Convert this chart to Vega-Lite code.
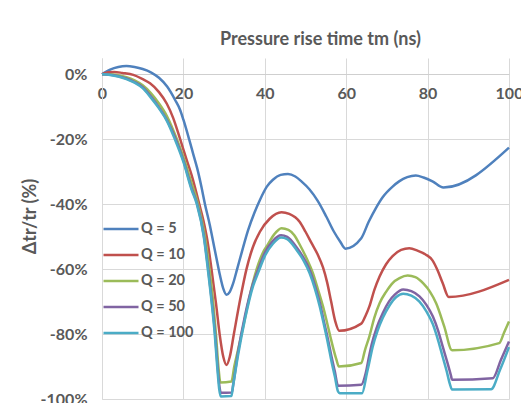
{
"$schema": "https://vega.github.io/schema/vega-lite/v6.json",
"width": 407, "height": 341,
"autosize": {"type": "none"},
"padding": {"left": 102, "top": 58, "right": 12, "bottom": 4},
"background": "white",
"title": {"text": "Pressure rise time tm (ns)", "font": "Lato", "fontSize": 18, "fontWeight": "bold", "color": "#595959", "anchor": "middle", "dx": 15, "offset": -5, "baseline": "alphabetic"},
"config": {"view": {"stroke": null}, "font": "Lato"},
"data": {"values": [
{"Q":"Q = 5","t":0,"v":0},{"Q":"Q = 5","t":2,"v":1.4},{"Q":"Q = 5","t":4,"v":2.2},{"Q":"Q = 5","t":6,"v":2.5},{"Q":"Q = 5","t":8,"v":2.2},{"Q":"Q = 5","t":10,"v":1.6},{"Q":"Q = 5","t":12,"v":0.6},{"Q":"Q = 5","t":14,"v":-1.1},{"Q":"Q = 5","t":16,"v":-3.8},{"Q":"Q = 5","t":18,"v":-8},{"Q":"Q = 5","t":19.2,"v":-11},{"Q":"Q = 5","t":20,"v":-14},{"Q":"Q = 5","t":21.4,"v":-20},{"Q":"Q = 5","t":22.4,"v":-24.5},{"Q":"Q = 5","t":23.4,"v":-29},{"Q":"Q = 5","t":24.4,"v":-34.5},{"Q":"Q = 5","t":25.3,"v":-40},{"Q":"Q = 5","t":26.5,"v":-46.5},{"Q":"Q = 5","t":27.3,"v":-51.5},{"Q":"Q = 5","t":28.1,"v":-56.5},{"Q":"Q = 5","t":29,"v":-62},{"Q":"Q = 5","t":29.8,"v":-66},{"Q":"Q = 5","t":30.6,"v":-67.9},{"Q":"Q = 5","t":31.4,"v":-67},{"Q":"Q = 5","t":32.2,"v":-64.5},{"Q":"Q = 5","t":33.2,"v":-60},{"Q":"Q = 5","t":34.3,"v":-55},{"Q":"Q = 5","t":35.9,"v":-48},{"Q":"Q = 5","t":37.5,"v":-42.5},{"Q":"Q = 5","t":38.8,"v":-38.7},{"Q":"Q = 5","t":40.5,"v":-34.6},{"Q":"Q = 5","t":42,"v":-32.5},{"Q":"Q = 5","t":43.9,"v":-31},{"Q":"Q = 5","t":45.7,"v":-30.7},{"Q":"Q = 5","t":47.5,"v":-31.5},{"Q":"Q = 5","t":49,"v":-33},{"Q":"Q = 5","t":51,"v":-35.5},{"Q":"Q = 5","t":53,"v":-39},{"Q":"Q = 5","t":55.1,"v":-43.8},{"Q":"Q = 5","t":57,"v":-48.5},{"Q":"Q = 5","t":58.5,"v":-51.5},{"Q":"Q = 5","t":59.8,"v":-53.7},{"Q":"Q = 5","t":63.7,"v":-50.5},{"Q":"Q = 5","t":65.5,"v":-45.5},{"Q":"Q = 5","t":67.3,"v":-41.2},{"Q":"Q = 5","t":69,"v":-37.8},{"Q":"Q = 5","t":71.4,"v":-34.6},{"Q":"Q = 5","t":73,"v":-33},{"Q":"Q = 5","t":75,"v":-31.7},{"Q":"Q = 5","t":77.1,"v":-31.2},{"Q":"Q = 5","t":79,"v":-31.8},{"Q":"Q = 5","t":81.2,"v":-33},{"Q":"Q = 5","t":83.9,"v":-34.9},{"Q":"Q = 5","t":100,"v":-22.6},
{"Q":"Q = 10","t":0,"v":0},{"Q":"Q = 10","t":1.5,"v":0.6},{"Q":"Q = 10","t":3,"v":0.7},{"Q":"Q = 10","t":5,"v":0.4},{"Q":"Q = 10","t":7.7,"v":-0.2},{"Q":"Q = 10","t":10,"v":-1.5},{"Q":"Q = 10","t":11.8,"v":-2.8},{"Q":"Q = 10","t":14,"v":-5.5},{"Q":"Q = 10","t":15.9,"v":-9},{"Q":"Q = 10","t":17.5,"v":-13.5},{"Q":"Q = 10","t":19.2,"v":-20},{"Q":"Q = 10","t":20.8,"v":-26.4},{"Q":"Q = 10","t":22,"v":-31},{"Q":"Q = 10","t":23.9,"v":-40},{"Q":"Q = 10","t":24.9,"v":-45},{"Q":"Q = 10","t":26,"v":-52},{"Q":"Q = 10","t":26.9,"v":-60},{"Q":"Q = 10","t":28,"v":-70.5},{"Q":"Q = 10","t":28.9,"v":-80},{"Q":"Q = 10","t":29.8,"v":-87},{"Q":"Q = 10","t":30.6,"v":-89.5},{"Q":"Q = 10","t":31.4,"v":-87},{"Q":"Q = 10","t":32.4,"v":-80},{"Q":"Q = 10","t":34,"v":-69},{"Q":"Q = 10","t":35.5,"v":-60},{"Q":"Q = 10","t":37,"v":-53.5},{"Q":"Q = 10","t":38.8,"v":-48.5},{"Q":"Q = 10","t":41.2,"v":-44.5},{"Q":"Q = 10","t":44.1,"v":-42.5},{"Q":"Q = 10","t":46,"v":-43},{"Q":"Q = 10","t":48.6,"v":-45.5},{"Q":"Q = 10","t":50,"v":-48.5},{"Q":"Q = 10","t":51.5,"v":-52},{"Q":"Q = 10","t":53,"v":-55.5},{"Q":"Q = 10","t":54.3,"v":-59.5},{"Q":"Q = 10","t":55.3,"v":-64},{"Q":"Q = 10","t":56.3,"v":-70},{"Q":"Q = 10","t":57.3,"v":-76},{"Q":"Q = 10","t":58.3,"v":-79},{"Q":"Q = 10","t":63.7,"v":-76.8},{"Q":"Q = 10","t":64.7,"v":-74.5},{"Q":"Q = 10","t":65.7,"v":-71.5},{"Q":"Q = 10","t":66.9,"v":-66.5},{"Q":"Q = 10","t":68.2,"v":-62.3},{"Q":"Q = 10","t":69.8,"v":-58.5},{"Q":"Q = 10","t":71.4,"v":-56},{"Q":"Q = 10","t":73.5,"v":-54.1},{"Q":"Q = 10","t":75.5,"v":-53.6},{"Q":"Q = 10","t":77.5,"v":-54.3},{"Q":"Q = 10","t":79.5,"v":-55.5},{"Q":"Q = 10","t":81.2,"v":-57.3},{"Q":"Q = 10","t":82.5,"v":-60.5},{"Q":"Q = 10","t":83.7,"v":-64.3},{"Q":"Q = 10","t":85.2,"v":-68.6},{"Q":"Q = 10","t":100,"v":-63.3},
{"Q":"Q = 20","t":0,"v":0},{"Q":"Q = 20","t":2,"v":0},{"Q":"Q = 20","t":4,"v":-0.3},{"Q":"Q = 20","t":6,"v":-0.9},{"Q":"Q = 20","t":8,"v":-1.9},{"Q":"Q = 20","t":10,"v":-3.4},{"Q":"Q = 20","t":12,"v":-5.8},{"Q":"Q = 20","t":14,"v":-9},{"Q":"Q = 20","t":16,"v":-13},{"Q":"Q = 20","t":18.4,"v":-20},{"Q":"Q = 20","t":20,"v":-25.5},{"Q":"Q = 20","t":22,"v":-33.5},{"Q":"Q = 20","t":23.6,"v":-40},{"Q":"Q = 20","t":25.3,"v":-50},{"Q":"Q = 20","t":26.4,"v":-60},{"Q":"Q = 20","t":27.3,"v":-70},{"Q":"Q = 20","t":28,"v":-80},{"Q":"Q = 20","t":28.6,"v":-90},{"Q":"Q = 20","t":29.1,"v":-94.9},{"Q":"Q = 20","t":31.8,"v":-94.6},{"Q":"Q = 20","t":32.5,"v":-90},{"Q":"Q = 20","t":33.4,"v":-85},{"Q":"Q = 20","t":34.3,"v":-80},{"Q":"Q = 20","t":35.9,"v":-70.5},{"Q":"Q = 20","t":37,"v":-64.5},{"Q":"Q = 20","t":38.4,"v":-58.5},{"Q":"Q = 20","t":39.7,"v":-54.5},{"Q":"Q = 20","t":40.8,"v":-52.3},{"Q":"Q = 20","t":42.3,"v":-49.3},{"Q":"Q = 20","t":44.1,"v":-47.4},{"Q":"Q = 20","t":45.8,"v":-47.9},{"Q":"Q = 20","t":47.2,"v":-49.5},{"Q":"Q = 20","t":48.6,"v":-52.5},{"Q":"Q = 20","t":50.2,"v":-56.5},{"Q":"Q = 20","t":51.8,"v":-61.2},{"Q":"Q = 20","t":53,"v":-66},{"Q":"Q = 20","t":54.3,"v":-71.5},{"Q":"Q = 20","t":55.3,"v":-76.5},{"Q":"Q = 20","t":56.3,"v":-81.8},{"Q":"Q = 20","t":57.6,"v":-87.9},{"Q":"Q = 20","t":58.2,"v":-90},{"Q":"Q = 20","t":63.7,"v":-88.9},{"Q":"Q = 20","t":64.6,"v":-85},{"Q":"Q = 20","t":65.7,"v":-80.7},{"Q":"Q = 20","t":66.9,"v":-75},{"Q":"Q = 20","t":68.2,"v":-70.5},{"Q":"Q = 20","t":69.8,"v":-67},{"Q":"Q = 20","t":71.4,"v":-64.3},{"Q":"Q = 20","t":73.1,"v":-62.8},{"Q":"Q = 20","t":75.1,"v":-62},{"Q":"Q = 20","t":77,"v":-62.5},{"Q":"Q = 20","t":79,"v":-64.5},{"Q":"Q = 20","t":80.6,"v":-67},{"Q":"Q = 20","t":82.1,"v":-70.5},{"Q":"Q = 20","t":84.1,"v":-77.7},{"Q":"Q = 20","t":86,"v":-85},{"Q":"Q = 20","t":97.6,"v":-82.8},{"Q":"Q = 20","t":98.8,"v":-79.5},{"Q":"Q = 20","t":100,"v":-76.1},
{"Q":"Q = 50","t":0,"v":0},{"Q":"Q = 50","t":2,"v":-0.15},{"Q":"Q = 50","t":4,"v":-0.6},{"Q":"Q = 50","t":6,"v":-1.3},{"Q":"Q = 50","t":8,"v":-2.4},{"Q":"Q = 50","t":10,"v":-4},{"Q":"Q = 50","t":12,"v":-6.8},{"Q":"Q = 50","t":14,"v":-10.2},{"Q":"Q = 50","t":16,"v":-14.2},{"Q":"Q = 50","t":18,"v":-19.6},{"Q":"Q = 50","t":20,"v":-26.5},{"Q":"Q = 50","t":22,"v":-35},{"Q":"Q = 50","t":23.4,"v":-40},{"Q":"Q = 50","t":25,"v":-49.5},{"Q":"Q = 50","t":26.1,"v":-60},{"Q":"Q = 50","t":27,"v":-70},{"Q":"Q = 50","t":27.8,"v":-80},{"Q":"Q = 50","t":28.4,"v":-90},{"Q":"Q = 50","t":28.9,"v":-96.5},{"Q":"Q = 50","t":29.2,"v":-98.1},{"Q":"Q = 50","t":31.9,"v":-98},{"Q":"Q = 50","t":32.3,"v":-95},{"Q":"Q = 50","t":33.5,"v":-85},{"Q":"Q = 50","t":35.1,"v":-74.5},{"Q":"Q = 50","t":37.1,"v":-64.5},{"Q":"Q = 50","t":38.4,"v":-60},{"Q":"Q = 50","t":40,"v":-55},{"Q":"Q = 50","t":42,"v":-51.3},{"Q":"Q = 50","t":44,"v":-49.6},{"Q":"Q = 50","t":45.5,"v":-50.1},{"Q":"Q = 50","t":47.8,"v":-53.3},{"Q":"Q = 50","t":49.5,"v":-56.5},{"Q":"Q = 50","t":51,"v":-60.2},{"Q":"Q = 50","t":52.3,"v":-65},{"Q":"Q = 50","t":53.5,"v":-70.3},{"Q":"Q = 50","t":54.5,"v":-76},{"Q":"Q = 50","t":55.5,"v":-81.5},{"Q":"Q = 50","t":56.4,"v":-87},{"Q":"Q = 50","t":57.2,"v":-91.5},{"Q":"Q = 50","t":58,"v":-95.9},{"Q":"Q = 50","t":63.7,"v":-95.6},{"Q":"Q = 50","t":64.8,"v":-92},{"Q":"Q = 50","t":65.6,"v":-87},{"Q":"Q = 50","t":66.3,"v":-83},{"Q":"Q = 50","t":67.5,"v":-78},{"Q":"Q = 50","t":69,"v":-73.5},{"Q":"Q = 50","t":70.5,"v":-70},{"Q":"Q = 50","t":72,"v":-67.8},{"Q":"Q = 50","t":74,"v":-66.3},{"Q":"Q = 50","t":76,"v":-66.8},{"Q":"Q = 50","t":78,"v":-68.4},{"Q":"Q = 50","t":79.7,"v":-71},{"Q":"Q = 50","t":81.3,"v":-74.6},{"Q":"Q = 50","t":82.6,"v":-79},{"Q":"Q = 50","t":83.7,"v":-83.8},{"Q":"Q = 50","t":84.8,"v":-88.5},{"Q":"Q = 50","t":85.8,"v":-93.1},{"Q":"Q = 50","t":86,"v":-94.1},{"Q":"Q = 50","t":96,"v":-93.6},{"Q":"Q = 50","t":98,"v":-88},{"Q":"Q = 50","t":100,"v":-82.3},
{"Q":"Q = 100","t":0,"v":0},{"Q":"Q = 100","t":2,"v":-0.2},{"Q":"Q = 100","t":4,"v":-0.7},{"Q":"Q = 100","t":6,"v":-1.5},{"Q":"Q = 100","t":8,"v":-2.6},{"Q":"Q = 100","t":10,"v":-4.3},{"Q":"Q = 100","t":12,"v":-7.2},{"Q":"Q = 100","t":14,"v":-10.5},{"Q":"Q = 100","t":16,"v":-14.5},{"Q":"Q = 100","t":17.9,"v":-20},{"Q":"Q = 100","t":20,"v":-27},{"Q":"Q = 100","t":22,"v":-35.5},{"Q":"Q = 100","t":23.3,"v":-40},{"Q":"Q = 100","t":25,"v":-50},{"Q":"Q = 100","t":26,"v":-60},{"Q":"Q = 100","t":27,"v":-71},{"Q":"Q = 100","t":27.7,"v":-80},{"Q":"Q = 100","t":28.3,"v":-90},{"Q":"Q = 100","t":28.8,"v":-97},{"Q":"Q = 100","t":29.2,"v":-99.2},{"Q":"Q = 100","t":31.8,"v":-99.1},{"Q":"Q = 100","t":32.2,"v":-96},{"Q":"Q = 100","t":33.5,"v":-86},{"Q":"Q = 100","t":35.1,"v":-75.6},{"Q":"Q = 100","t":37.1,"v":-65.3},{"Q":"Q = 100","t":38.4,"v":-61},{"Q":"Q = 100","t":40,"v":-56},{"Q":"Q = 100","t":42,"v":-52.2},{"Q":"Q = 100","t":44,"v":-50.3},{"Q":"Q = 100","t":45.5,"v":-50.8},{"Q":"Q = 100","t":47.8,"v":-54.1},{"Q":"Q = 100","t":49.5,"v":-57.3},{"Q":"Q = 100","t":51,"v":-61.2},{"Q":"Q = 100","t":52.3,"v":-66},{"Q":"Q = 100","t":53.5,"v":-71.5},{"Q":"Q = 100","t":54.5,"v":-77},{"Q":"Q = 100","t":55.5,"v":-82.8},{"Q":"Q = 100","t":56.4,"v":-88.5},{"Q":"Q = 100","t":57.2,"v":-93},{"Q":"Q = 100","t":58,"v":-97.7},{"Q":"Q = 100","t":58.4,"v":-98.2},{"Q":"Q = 100","t":63.9,"v":-98.2},{"Q":"Q = 100","t":65.1,"v":-92},{"Q":"Q = 100","t":65.8,"v":-88},{"Q":"Q = 100","t":66.5,"v":-84},{"Q":"Q = 100","t":67.7,"v":-79},{"Q":"Q = 100","t":69,"v":-75},{"Q":"Q = 100","t":70.6,"v":-71.3},{"Q":"Q = 100","t":72.3,"v":-68.6},{"Q":"Q = 100","t":74,"v":-67.6},{"Q":"Q = 100","t":76,"v":-68.2},{"Q":"Q = 100","t":78,"v":-70},{"Q":"Q = 100","t":79.7,"v":-73},{"Q":"Q = 100","t":81.3,"v":-77},{"Q":"Q = 100","t":82.6,"v":-82},{"Q":"Q = 100","t":83.7,"v":-87},{"Q":"Q = 100","t":84.7,"v":-91.5},{"Q":"Q = 100","t":85.5,"v":-95.5},{"Q":"Q = 100","t":86,"v":-97.1},{"Q":"Q = 100","t":95.6,"v":-97},{"Q":"Q = 100","t":97.8,"v":-91},{"Q":"Q = 100","t":100,"v":-84}
]},
"mark": {"type": "line", "strokeWidth": 2.5, "interpolate": "monotone"},
"encoding": {
"x": {"field": "t", "type": "quantitative", "scale": {"domain": [0, 100], "nice": false},
 "axis": {"orient": "bottom", "offset": -325, "values": [0, 20, 40, 60, 80, 100], "grid": true, "gridColor": "#D9D9D9", "gridWidth": 1, "domainColor": "#CFCFCF", "domainWidth": 1, "ticks": false, "tickSize": 0, "labelPadding": 11, "labelFlush": false, "labelFont": "Lato", "labelFontSize": 16, "labelFontWeight": "bold", "labelColor": "#595959", "title": null}},
"y": {"field": "v", "type": "quantitative", "scale": {"domain": [-100, 5], "nice": false},
 "axis": {"values": [0, -20, -40, -60, -80, -100], "labelExpr": "datum.value + '%'", "grid": true, "gridColor": "#D9D9D9", "gridWidth": 1, "domainColor": "#D9D9D9", "ticks": false, "tickSize": 0, "labelPadding": 15, "labelFont": "Lato", "labelFontSize": 16, "labelFontWeight": "bold", "labelColor": "#595959", "title": "Δtr/tr (%)", "titleFont": "Lato", "titleFontSize": 18, "titleFontWeight": "bold", "titleColor": "#595959", "titleX": -72, "titleY": 158, "titleBaseline": "middle"}},
"color": {"field": "Q", "type": "nominal",
 "scale": {"domain": ["Q = 5", "Q = 10", "Q = 20", "Q = 50", "Q = 100"], "range": ["#4F81BD", "#C0504D", "#9BBB59", "#8064A2", "#4BACC6"]},
 "legend": {"orient": "none", "legendX": 0, "legendY": 152, "title": null, "padding": 0, "symbolType": "stroke", "symbolSize": 1225, "symbolStrokeWidth": 2.5, "labelFont": "Lato", "labelFontSize": 14.5, "labelFontWeight": "bold", "labelColor": "#595959", "labelOffset": 1, "rowPadding": -3.6}}
}
}
